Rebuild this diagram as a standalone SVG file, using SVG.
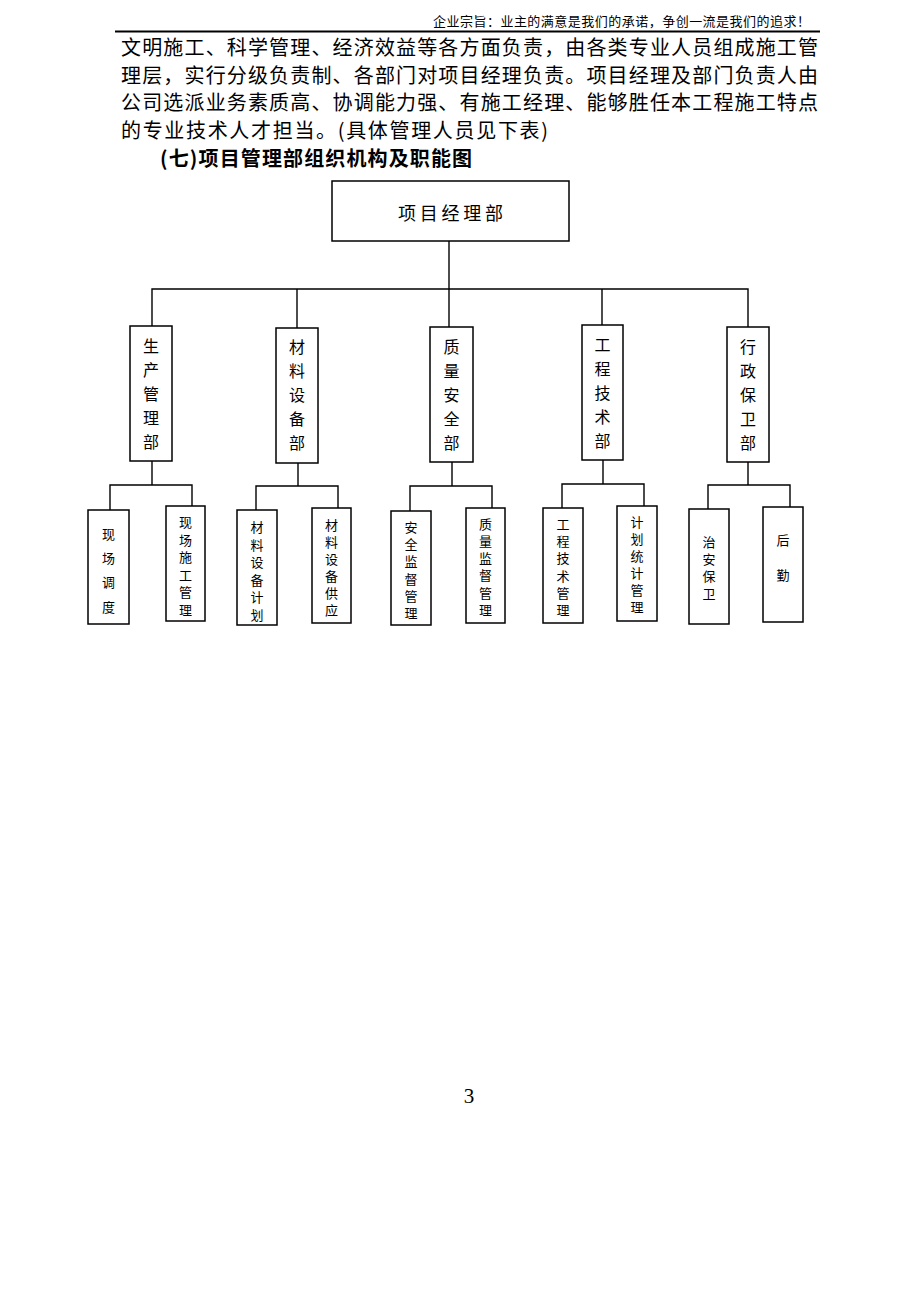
<svg xmlns="http://www.w3.org/2000/svg" width="920" height="1302" viewBox="0 0 920 1302">
<style>
.bg{fill:#fff}
.box{fill:#fff;stroke:#000;stroke-width:1.5}
.ln{fill:none;stroke:#000;stroke-width:1.4}
.t{font-family:"Noto Sans CJK SC","Liberation Sans",sans-serif;fill:#000}
.hd{font-size:13px}
.p{font-size:20px}
.ti{font-size:20px;font-weight:bold}
.top{font-size:18px}
.dep{font-size:16px;text-anchor:middle;dominant-baseline:central}
.sub{font-size:13px;text-anchor:middle;dominant-baseline:central}
.pg{font-family:"Liberation Serif",serif;font-size:21px;fill:#000;text-anchor:middle}
</style>
<rect class="bg" x="0" y="0" width="920" height="1302"/>
<g id="header">
<text class="t hd" x="433" y="26" textLength="377" lengthAdjust="spacing">企业宗旨：业主的满意是我们的承诺，争创一流是我们的追求！</text>
<line x1="115" y1="31.5" x2="820" y2="31.5" stroke="#000" stroke-width="2"/>
</g>
<g id="paragraph">
<text class="t p" x="121" y="55" textLength="697" lengthAdjust="spacing">文明施工、科学管理、经济效益等各方面负责，由各类专业人员组成施工管</text>
<text class="t p" x="121" y="82.5" textLength="697" lengthAdjust="spacing">理层，实行分级负责制、各部门对项目经理负责。项目经理及部门负责人由</text>
<text class="t p" x="121" y="110" textLength="697" lengthAdjust="spacing">公司选派业务素质高、协调能力强、有施工经理、能够胜任本工程施工特点</text>
<text class="t p" x="121" y="137.5" textLength="427" lengthAdjust="spacing">的专业技术人才担当。(具体管理人员见下表)</text>
<text class="t ti" x="160" y="165.5" textLength="312" lengthAdjust="spacing">(七)项目管理部组织机构及职能图</text>
</g>
<g id="connectors">
<polyline class="ln" points="449,241 449,289"/>
<polyline class="ln" points="152,326 152,289 748,289 748,327"/>
<line class="ln" x1="297" y1="289" x2="297" y2="328"/>
<line class="ln" x1="449" y1="289" x2="449" y2="327"/>
<line class="ln" x1="602" y1="289" x2="602" y2="325"/>
<line class="ln" x1="152" y1="461" x2="152" y2="485"/>
<polyline class="ln" points="110,510 110,485 192,485 192,506"/>
<line class="ln" x1="298" y1="463" x2="298" y2="486"/>
<polyline class="ln" points="256,510 256,486 338,486 338,508"/>
<line class="ln" x1="452" y1="462" x2="452" y2="486"/>
<polyline class="ln" points="410,511 410,486 492,486 492,508"/>
<line class="ln" x1="603" y1="460" x2="603" y2="484"/>
<polyline class="ln" points="562,508 562,484 644,484 644,506"/>
<line class="ln" x1="748" y1="462" x2="748" y2="485"/>
<polyline class="ln" points="708,509 708,485 790,485 790,507"/>
</g>
<g id="n-pm">
<rect class="box" x="332" y="181" width="237" height="60"/>
<text class="t top" x="398" y="220" textLength="105" lengthAdjust="spacing">项目经理部</text>
</g>
<g id="n-scgl">
<rect class="box" x="130" y="326" width="42" height="135"/>
<text class="t dep" x="151"><tspan x="151" y="345">生</tspan><tspan x="151" y="369">产</tspan><tspan x="151" y="393">管</tspan><tspan x="151" y="417">理</tspan><tspan x="151" y="441">部</tspan></text>
</g>
<g id="n-clsb">
<rect class="box" x="276" y="328" width="42" height="135"/>
<text class="t dep" x="297"><tspan x="297" y="346">材</tspan><tspan x="297" y="370">料</tspan><tspan x="297" y="394">设</tspan><tspan x="297" y="418">备</tspan><tspan x="297" y="442">部</tspan></text>
</g>
<g id="n-zlaq">
<rect class="box" x="430" y="327" width="43" height="135"/>
<text class="t dep" x="451.5"><tspan x="451.5" y="346">质</tspan><tspan x="451.5" y="370">量</tspan><tspan x="451.5" y="394">安</tspan><tspan x="451.5" y="418">全</tspan><tspan x="451.5" y="442">部</tspan></text>
</g>
<g id="n-gcjs">
<rect class="box" x="582" y="325" width="41" height="135"/>
<text class="t dep" x="602.5"><tspan x="602.5" y="344">工</tspan><tspan x="602.5" y="368">程</tspan><tspan x="602.5" y="392">技</tspan><tspan x="602.5" y="416">术</tspan><tspan x="602.5" y="440">部</tspan></text>
</g>
<g id="n-xzbw">
<rect class="box" x="727" y="327" width="42" height="135"/>
<text class="t dep" x="748"><tspan x="748" y="346">行</tspan><tspan x="748" y="370">政</tspan><tspan x="748" y="394">保</tspan><tspan x="748" y="418">卫</tspan><tspan x="748" y="442">部</tspan></text>
</g>
<g id="n-xcdd">
<rect class="box" x="88" y="510" width="41" height="114"/>
<text class="t sub"><tspan x="108.5" y="532.5">现</tspan><tspan x="108.5" y="557">场</tspan><tspan x="108.5" y="581">调</tspan><tspan x="108.5" y="605.5">度</tspan></text>
</g>
<g id="n-xcsggl">
<rect class="box" x="166" y="506" width="39" height="115"/>
<text class="t sub"><tspan x="185.5" y="521">现</tspan><tspan x="185.5" y="538.5">场</tspan><tspan x="185.5" y="556">施</tspan><tspan x="185.5" y="573.5">工</tspan><tspan x="185.5" y="591">管</tspan><tspan x="185.5" y="608.5">理</tspan></text>
</g>
<g id="n-clsbjh">
<rect class="box" x="237" y="510" width="40" height="115"/>
<text class="t sub"><tspan x="257" y="526">材</tspan><tspan x="257" y="543.5">料</tspan><tspan x="257" y="561">设</tspan><tspan x="257" y="578.5">备</tspan><tspan x="257" y="596">计</tspan><tspan x="257" y="613.5">划</tspan></text>
</g>
<g id="n-clsbgy">
<rect class="box" x="312" y="508" width="39" height="115"/>
<text class="t sub"><tspan x="331.5" y="524">材</tspan><tspan x="331.5" y="541">料</tspan><tspan x="331.5" y="558">设</tspan><tspan x="331.5" y="575">备</tspan><tspan x="331.5" y="592">供</tspan><tspan x="331.5" y="609">应</tspan></text>
</g>
<g id="n-aqjdgl">
<rect class="box" x="391" y="511" width="40" height="114"/>
<text class="t sub"><tspan x="411" y="526">安</tspan><tspan x="411" y="543.2">全</tspan><tspan x="411" y="560.4">监</tspan><tspan x="411" y="577.6">督</tspan><tspan x="411" y="594.8">管</tspan><tspan x="411" y="612">理</tspan></text>
</g>
<g id="n-zljdgl">
<rect class="box" x="466" y="508" width="39" height="115"/>
<text class="t sub"><tspan x="485.5" y="522.5">质</tspan><tspan x="485.5" y="539.8">量</tspan><tspan x="485.5" y="557.1">监</tspan><tspan x="485.5" y="574.4">督</tspan><tspan x="485.5" y="591.7">管</tspan><tspan x="485.5" y="609">理</tspan></text>
</g>
<g id="n-gcjsgl">
<rect class="box" x="543" y="508" width="40" height="115"/>
<text class="t sub"><tspan x="563" y="523">工</tspan><tspan x="563" y="540.2">程</tspan><tspan x="563" y="557.4">技</tspan><tspan x="563" y="574.6">术</tspan><tspan x="563" y="591.8">管</tspan><tspan x="563" y="609">理</tspan></text>
</g>
<g id="n-jhtjgl">
<rect class="box" x="617" y="506" width="40" height="115"/>
<text class="t sub"><tspan x="637" y="521">计</tspan><tspan x="637" y="538">划</tspan><tspan x="637" y="555">统</tspan><tspan x="637" y="572">计</tspan><tspan x="637" y="589">管</tspan><tspan x="637" y="606">理</tspan></text>
</g>
<g id="n-zabw">
<rect class="box" x="689" y="509" width="40" height="115"/>
<text class="t sub"><tspan x="709" y="541">治</tspan><tspan x="709" y="558">安</tspan><tspan x="709" y="575">保</tspan><tspan x="709" y="592.5">卫</tspan></text>
</g>
<g id="n-hq">
<rect class="box" x="763" y="507" width="40" height="115"/>
<text class="t sub"><tspan x="783" y="539">后</tspan><tspan x="783" y="574">勤</tspan></text>
</g>
<g id="page">
<text class="pg" x="469" y="1103">3</text>
</g>
</svg>
